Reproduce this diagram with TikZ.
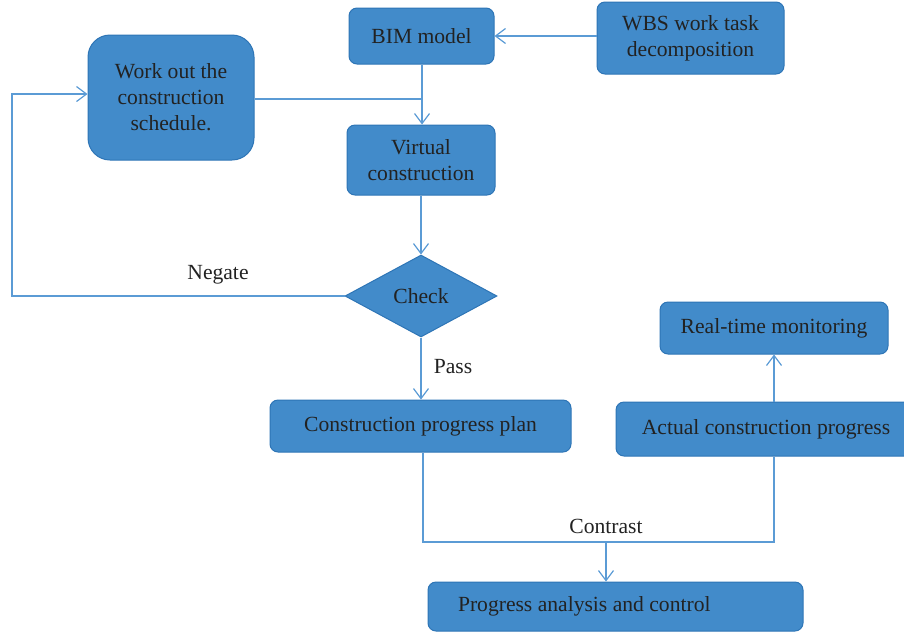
\documentclass[tikz,border=0pt]{standalone}
\usepackage{fontspec}
\setmainfont{Liberation Serif}
\usetikzlibrary{shapes.geometric,arrows.meta}
\definecolor{boxfill}{RGB}{66,139,202}
\definecolor{boxedge}{RGB}{46,117,182}
\definecolor{linkblue}{RGB}{91,155,213}
\definecolor{inktext}{RGB}{34,34,34}
\tikzset{
  box/.style={draw=boxedge, fill=boxfill, line width=1pt, rounded corners=8pt,
    inner sep=0pt, align=center, text=inktext,
    font=\fontsize{21.6}{26}\selectfont},
  decision/.style={diamond, draw=boxedge, fill=boxfill, line width=1pt,
    inner sep=0pt, text=inktext, font=\fontsize{21.6}{26}\selectfont},
  link/.style={draw=linkblue, line width=1.4pt},
  arrowlink/.style={link, -{Straight Barb[length=10pt,width=15pt,line width=1.2pt]}},
  tag/.style={text=inktext, font=\fontsize{21.6}{26}\selectfont, inner sep=0pt}
}
\begin{document}
\begin{tikzpicture}[x=1pt,y=-1pt]
  \useasboundingbox (0,0) rectangle (904,633);

  % process steps
  \node[box, minimum width=145pt, minimum height=56pt] (bim) at (421.5,36) {BIM model};
  \node[box, minimum width=187pt, minimum height=72pt] (wbs) at (690.5,38) {WBS work task\\decomposition};
  \node[box, rounded corners=22pt, minimum width=166pt, minimum height=125pt] (sched) at (171,97.5)
    {Work out the\\construction\\schedule.};
  \node[box, minimum width=148pt, minimum height=70pt] (virt) at (421,160) {Virtual\\construction};
  \node[decision, minimum width=152pt, minimum height=82pt] (check) at (421,296) {Check};
  \node[box, minimum width=301pt, minimum height=52pt] (plan) at (420.5,426) {Construction progress plan};
  \node[box, minimum width=228pt, minimum height=52pt] (monitor) at (774,328) {Real-time monitoring};
  \node[box, minimum width=300pt, minimum height=54pt] (actual) at (766,429) {Actual construction progress};
  \node[box, minimum width=375pt, minimum height=49pt, text width=315pt, inner xsep=30pt, align=flush left]
    (analysis) at (615.5,606.5) {Progress analysis and control};

  % junction points
  \coordinate (join) at (422,99);
  \coordinate (merge) at (606,542);

  % connectors
  \draw[arrowlink] (wbs.west |- bim.east) -- (bim.east);
  \draw[arrowlink] (bim.south -| join) -- (join |- virt.north);
  \draw[link] (sched.east |- join) -- (join);
  \draw[arrowlink] (virt.south) -- (check.north);
  \draw[arrowlink] (check.west) -- (12,296) -- (12,94) -- (sched.west |- 0,94);
  \draw[arrowlink] (check.south) -- (plan.north -| check.south);
  \draw[link] (plan.south -| 423,0) -- (423,542) -- (774,542) -- (actual.south -| 774,0);
  \draw[arrowlink] (merge) -- (analysis.north -| merge);
  \draw[arrowlink] (actual.north -| monitor.south) -- (monitor.south);

  % labels
  \node[tag] (negate) at (218,275) {Negate};
  \node[tag] (pass) at (453,367) {Pass};
  \node[tag] (contrast) at (606,526) {Contrast};
\end{tikzpicture}
\end{document}
